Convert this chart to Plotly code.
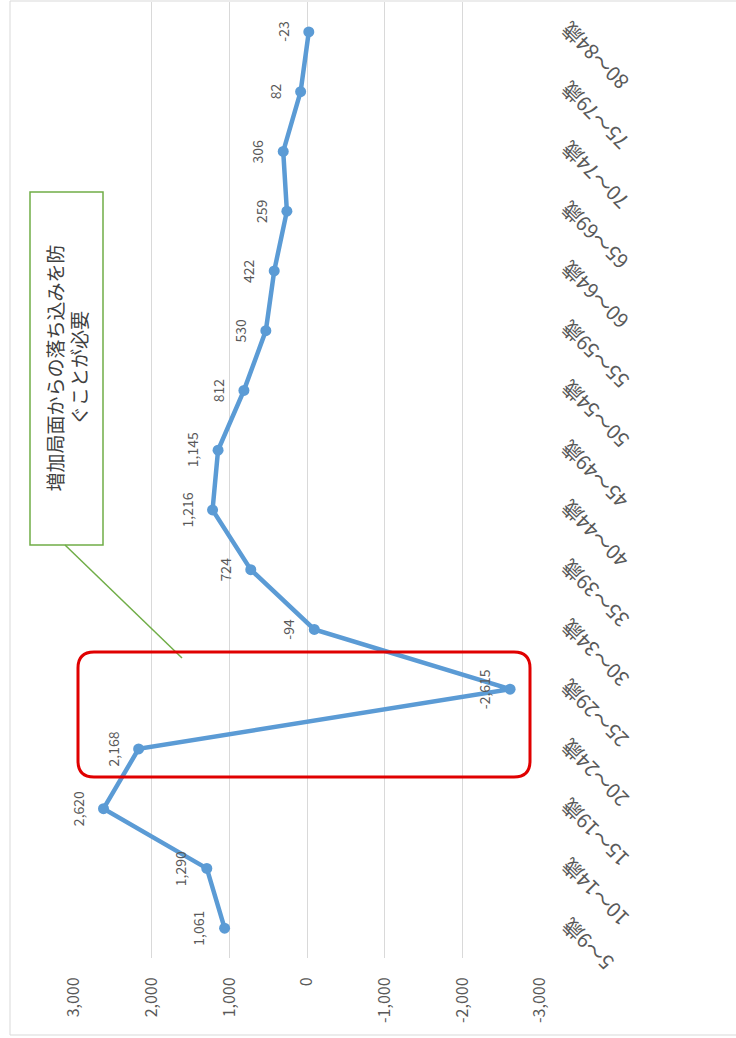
import plotly.graph_objects as go

categories = ["5～9歳", "10～14歳", "15～19歳", "20～24歳", "25～29歳", "30～34歳",
              "35～39歳", "40～44歳", "45～49歳", "50～54歳", "55～59歳", "60～64歳",
              "65～69歳", "70～74歳", "75～79歳", "80～84歳"]
values = [1061, 1290, 2620, 2168, -2615, -94, 724, 1216, 1145, 812, 530, 422,
          259, 306, 82, -23]
tick_vals = [3000, 2000, 1000, 0, -1000, -2000, -3000]
tick_text = ["3,000", "2,000", "1,000", "0", "-1,000", "-2,000", "-3,000"]
note_text = "増加局面からの落ち込みを防<br>ぐことが必要"

W, H = 736, 1038
L, R, T, B = 74, 540, 2, 958
FONT = "Noto Sans CJK JP, Noto Sans, sans-serif"
GRAY = "#595959"


def px(x):
    return (x - L) / (R - L)


def py(y):
    return (B - y) / (B - T)


def rounded_rect(x1, y1, x2, y2, r):
    pts = [
        f"M {px(x1 + r)} {py(y1)}",
        f"L {px(x2 - r)} {py(y1)}",
        f"Q {px(x2)} {py(y1)} {px(x2)} {py(y1 + r)}",
        f"L {px(x2)} {py(y2 - r)}",
        f"Q {px(x2)} {py(y2)} {px(x2 - r)} {py(y2)}",
        f"L {px(x1 + r)} {py(y2)}",
        f"Q {px(x1)} {py(y2)} {px(x1)} {py(y2 - r)}",
        f"L {px(x1)} {py(y1 + r)}",
        f"Q {px(x1)} {py(y1)} {px(x1 + r)} {py(y1)}",
        "Z",
    ]
    return " ".join(pts)


fig = go.Figure()
fig.add_trace(go.Scatter(
    x=values, y=categories, mode="lines+markers",
    line=dict(color="#5b9bd5", width=4.5),
    marker=dict(color="#5b9bd5", size=11),
    hoverinfo="skip", showlegend=False,
))

annotations = []
for c, v in zip(categories, values):
    annotations.append(dict(
        x=v, y=c, xref="x", yref="y", text=f"{v:,}", showarrow=False,
        textangle=-90, xshift=-26, xanchor="center", yanchor="middle",
        font=dict(family=FONT, size=14, color=GRAY),
    ))
for c in categories:
    annotations.append(dict(
        x=px(552), y=c, xref="paper", yref="y", text=c, showarrow=False,
        textangle=-135, xanchor="left", yanchor="top", yshift=18,
        font=dict(family=FONT, size=20, color=GRAY),
    ))
annotations.append(dict(
    x=px(66.5), y=py(368), xref="paper", yref="paper", text=note_text,
    showarrow=False, textangle=-90, align="center",
    xanchor="center", yanchor="middle",
    font=dict(family=FONT, size=19, color="#404040"),
))

shapes = [
    dict(type="rect", xref="paper", yref="paper", x0=px(10), x1=px(745),
         y0=py(1), y1=py(1035), line=dict(color="#d9d9d9", width=1),
         layer="below"),
    dict(type="rect", xref="paper", yref="paper", x0=px(30), x1=px(103),
         y0=py(192), y1=py(545), line=dict(color="#70ad47", width=1.5),
         fillcolor="white"),
    dict(type="line", xref="paper", yref="paper", x0=px(65), y0=py(545),
         x1=px(182), y1=py(658), line=dict(color="#70ad47", width=1.5)),
    dict(type="path", xref="paper", yref="paper",
         path=rounded_rect(78, 652, 530, 777, 16),
         line=dict(color="#e00000", width=3)),
]

fig.update_layout(
    width=W, height=H,
    margin=dict(l=L, r=W - R, t=T, b=H - B),
    paper_bgcolor="white", plot_bgcolor="white",
    font=dict(family=FONT, color=GRAY),
    xaxis=dict(
        range=[3000, -3000], tickvals=tick_vals, ticktext=tick_text,
        tickangle=-90, showgrid=True, gridcolor="#d9d9d9", gridwidth=1,
        zeroline=False, showline=False, ticks="outside", ticklen=12,
        tickcolor="rgba(0,0,0,0)", tickfont=dict(family=FONT, size=16, color=GRAY),
    ),
    yaxis=dict(
        type="category", categoryorder="array", categoryarray=categories,
        range=[-0.5, len(categories) - 0.5], showticklabels=False,
        showgrid=False, zeroline=False, showline=False,
    ),
    annotations=annotations,
    shapes=shapes,
)

fig.write_html("out.html", config={"displayModeBar": False},
               post_script="document.body.style.margin='0';")
